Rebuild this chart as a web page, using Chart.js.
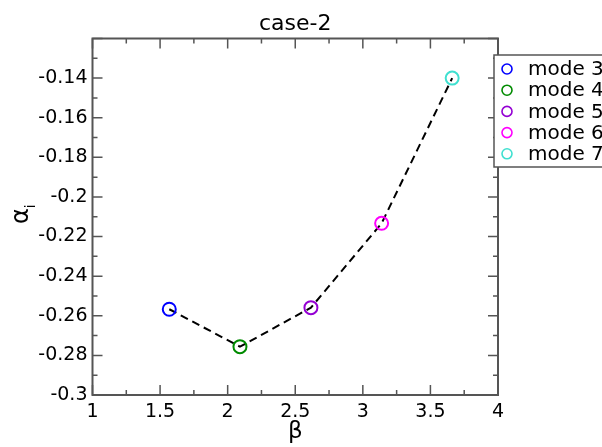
<!DOCTYPE html>
<html>
<head>
<meta charset="utf-8">
<script src="https://cdn.jsdelivr.net/npm/chart.js@4/dist/chart.umd.min.js"></script>
<style>
  html, body { margin: 0; padding: 0; background: #fff; }
  #c { display: block; }
</style>
</head>
<body>
<canvas id="c" width="602" height="447"></canvas>
<script>
// ---- data ----
const modeLabels = ['mode 3', 'mode 4', 'mode 5', 'mode 6', 'mode 7'];
const betaValues = [1.568, 2.091, 2.616, 3.139, 3.661];
const alphaValues = [-0.2567, -0.2756, -0.2559, -0.2133, -0.1400];
const xTickValues = [1, 1.5, 2, 2.5, 3, 3.5, 4];
const yTickValues = [-0.3, -0.28, -0.26, -0.24, -0.22, -0.2, -0.18, -0.16, -0.14];
const chartTitle = 'case-2';

// ---- styles ----
const modeColors = ['#0000ff', '#008b00', '#9400d3', '#ff00ff', '#40e0d0'];
const FONT = '"DejaVu Sans", "Liberation Sans", sans-serif';
const AXIS_COLOR = '#555555';

const points = betaValues.map((b, i) => ({ x: b, y: alphaValues[i] }));

const decorations = {
  id: 'decorations',
  afterDraw(chart) {
    const ctx = chart.ctx;
    const a = chart.chartArea;
    const xs = chart.scales.x, ys = chart.scales.y;
    ctx.save();
    // frame
    ctx.strokeStyle = AXIS_COLOR;
    ctx.lineWidth = 2;
    ctx.strokeRect(a.left, a.top, a.right - a.left, a.bottom - a.top);
    // ticks (inward, all four sides)
    ctx.lineWidth = 1.5;
    ctx.beginPath();
    const xt = xs.ticks.map(t => t.value);
    for (let i = 0; i < xt.length; i++) {
      const px = xs.getPixelForValue(xt[i]);
      ctx.moveTo(px, a.bottom); ctx.lineTo(px, a.bottom - 10);
      ctx.moveTo(px, a.top); ctx.lineTo(px, a.top + 10);
      if (i < xt.length - 1) {
        const pm = xs.getPixelForValue((xt[i] + xt[i + 1]) / 2);
        ctx.moveTo(pm, a.bottom); ctx.lineTo(pm, a.bottom - 5);
        ctx.moveTo(pm, a.top); ctx.lineTo(pm, a.top + 5);
      }
    }
    const yt = ys.ticks.map(t => t.value);
    for (let i = 0; i < yt.length; i++) {
      const py = ys.getPixelForValue(yt[i]);
      ctx.moveTo(a.left, py); ctx.lineTo(a.left + 10, py);
      ctx.moveTo(a.right, py); ctx.lineTo(a.right - 10, py);
      if (i < yt.length - 1) {
        const pm = ys.getPixelForValue((yt[i] + yt[i + 1]) / 2);
        ctx.moveTo(a.left, pm); ctx.lineTo(a.left + 5, pm);
        ctx.moveTo(a.right, pm); ctx.lineTo(a.right - 5, pm);
      }
    }
    ctx.stroke();

    // title
    ctx.fillStyle = '#000';
    ctx.font = '22px ' + FONT;
    ctx.textAlign = 'center';
    ctx.textBaseline = 'alphabetic';
    ctx.fillText(chartTitle, (a.left + a.right) / 2, 30);

    // x axis title
    ctx.font = '23px ' + FONT;
    ctx.fillText('β', (a.left + a.right) / 2, 438);

    // y axis title (alpha with subscript i)
    ctx.save();
    ctx.translate(28, 224);
    ctx.rotate(-Math.PI / 2);
    ctx.textAlign = 'left';
    ctx.font = '24px ' + FONT;
    ctx.fillText('α', 0, 0);
    const w = ctx.measureText('α').width;
    ctx.font = '14px ' + FONT;
    ctx.fillText('i', w, 7);
    ctx.restore();

    // legend
    const lx = 494, ly = 55, lw = 130, lh = 112;
    ctx.fillStyle = '#fff';
    ctx.fillRect(lx, ly, lw, lh);
    ctx.strokeStyle = AXIS_COLOR;
    ctx.lineWidth = 1.5;
    ctx.strokeRect(lx, ly, lw, lh);
    ctx.font = '20px ' + FONT;
    ctx.textAlign = 'left';
    ctx.textBaseline = 'middle';
    chart.data.datasets[0].data.forEach((p, i) => {
      const ry = 69 + i * 21.2;
      ctx.beginPath();
      ctx.arc(507, ry, 5, 0, Math.PI * 2);
      ctx.strokeStyle = modeColors[i];
      ctx.lineWidth = 1.6;
      ctx.stroke();
      ctx.fillStyle = '#000';
      ctx.fillText(modeLabels[i], 528, ry + 1);
    });
    ctx.restore();
  }
};

new Chart(document.getElementById('c'), {
  type: 'scatter',
  data: {
    datasets: [{
      label: 'alpha_i',
      data: points,
      showLine: true,
      borderColor: '#000',
      borderWidth: 2,
      borderDash: [8, 5],
      pointRadius: 6.5,
      pointHoverRadius: 6.5,
      pointBorderWidth: 2,
      pointBorderColor: modeColors,
      pointBackgroundColor: 'rgba(0,0,0,0)',
      tension: 0
    }]
  },
  options: {
    responsive: false,
    animation: false,
    devicePixelRatio: 1,
    layout: { autoPadding: false, padding: { top: 38.5, right: 104, bottom: 0, left: 0 } },
    plugins: { legend: { display: false }, title: { display: false }, tooltip: { enabled: false } },
    scales: {
      x: {
        type: 'linear',
        min: 1, max: 4,
        afterBuildTicks: s => { s.ticks = xTickValues.map(v => ({ value: v })); },
        afterFit: s => { s.height = 52; },
        grid: { display: false, drawTicks: false },
        border: { display: false },
        ticks: {
          color: '#000',
          font: { family: FONT, size: 19 },
          padding: 6,
          maxRotation: 0,
          callback: v => String(parseFloat(Number(v).toFixed(2)))
        }
      },
      y: {
        type: 'linear',
        min: -0.3, max: -0.12,
        afterBuildTicks: s => { s.ticks = yTickValues.concat([-0.12]).map(v => ({ value: v })); },
        afterFit: s => { s.width = 92.5; },
        grid: { display: false, drawTicks: false },
        border: { display: false },
        ticks: {
          color: '#000',
          font: { family: FONT, size: 19 },
          padding: 5,
          callback: v => (v > -0.125 ? '' : String(parseFloat(Number(v).toFixed(2))))
        }
      }
    }
  },
  plugins: [decorations]
});
</script>
</body>
</html>
